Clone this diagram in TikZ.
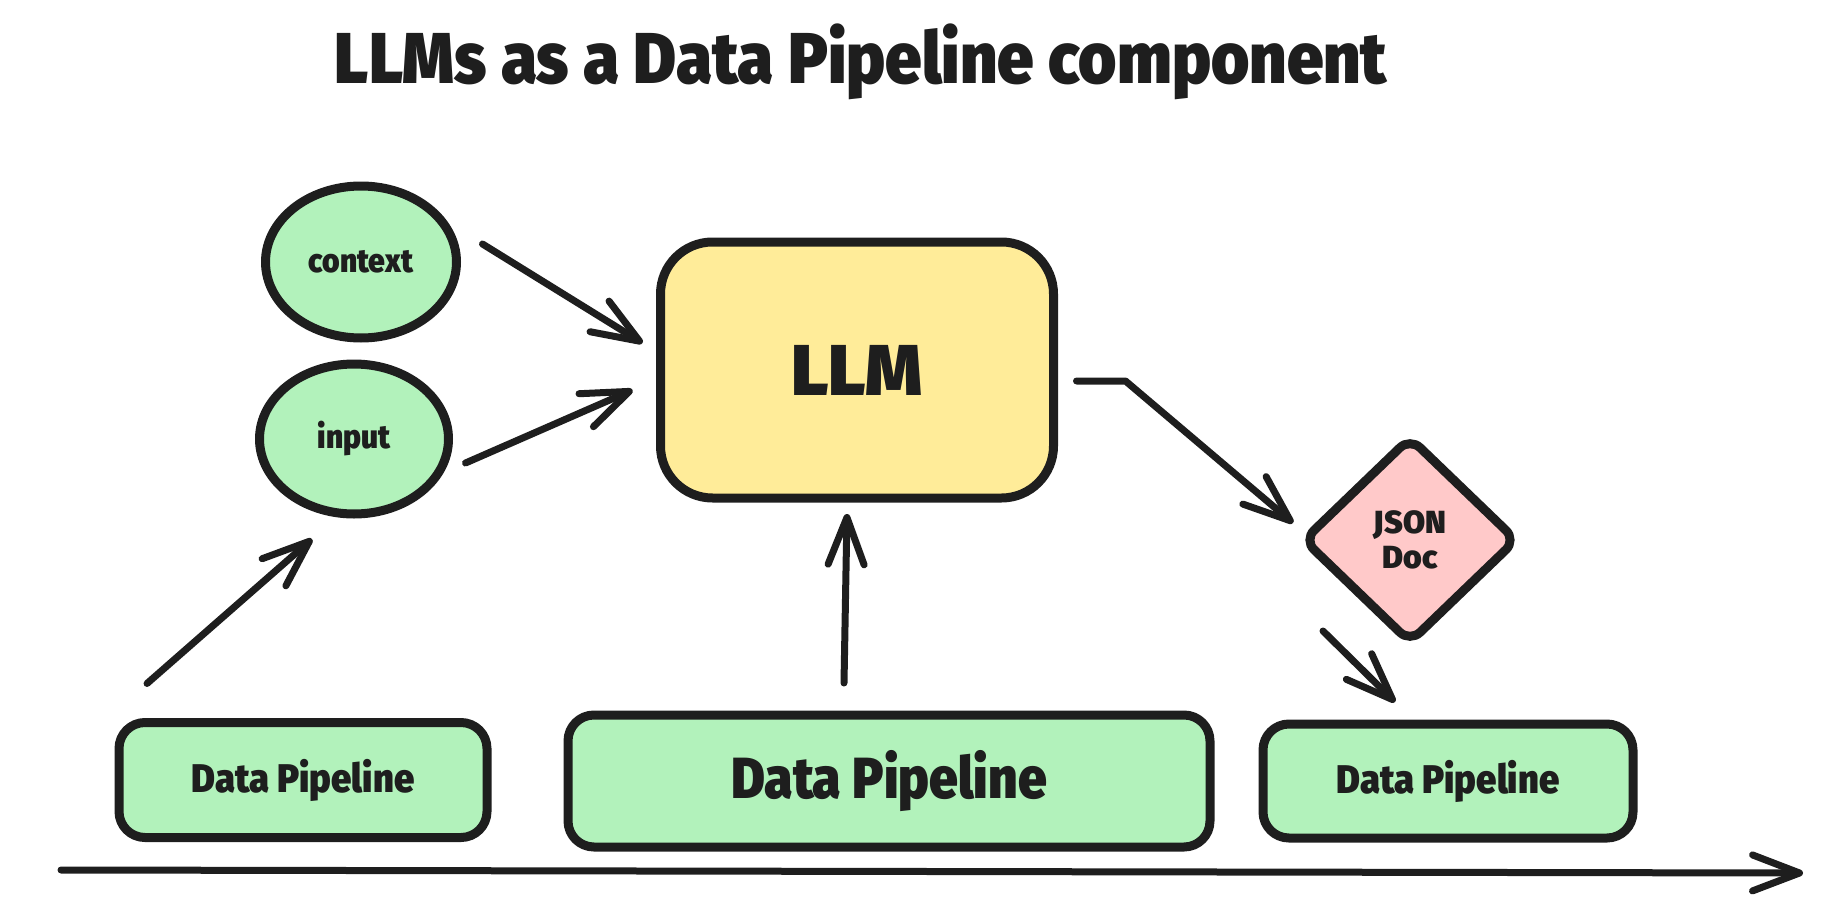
\documentclass[tikz,border=0pt]{standalone}
\usepackage{fontspec}
\newfontfamily\heavyfont{Fira Sans Black}
\newcommand{\narrow}[1]{\scalebox{0.91}[1]{#1}}	% the sketch font runs narrower
\usepackage{tikz}
\usetikzlibrary{arrows.meta,positioning,shapes.geometric}
\definecolor{ink}{HTML}{1E1E1E}
\definecolor{lgreen}{HTML}{B2F2BB}
\definecolor{lyellow}{HTML}{FFEC99}
\definecolor{lpink}{HTML}{FFC9C9}

\begin{document}
\begin{tikzpicture}[% one unit is one pixel of the sketch, y runs down
		x=1pt,y=-1pt,
		every node/.style={
			align=center,		% so that "\\" breaks the line
			text=ink,
			inner sep=0pt,
			outer sep=0pt
		},
		every edge/.style={draw=ink,line width=7pt,line cap=round,line join=round},
		>={Straight Barb[length=47pt,width=36pt,round]},
		pipebox/.style={rectangle,rounded corners=26pt,draw=ink,line width=9pt,fill=lgreen},
		blob/.style={ellipse,draw=ink,line width=9pt,fill=lgreen,font=\heavyfont\fontsize{33}{38}\selectfont}
	]
	\useasboundingbox (0,0) rectangle (1840,918);
	% title
	\node (T) at (861,62) {\heavyfont\fontsize{72}{80}\selectfont\narrow{LLMs as a Data Pipeline component}};
	% model and its inputs
	\node[rectangle,rounded corners=52pt,draw=ink,line width=9pt,fill=lyellow,minimum width=393pt,minimum height=256pt,font=\heavyfont\fontsize{72}{80}\selectfont](R1) at (857,370){LLM};
	\node[blob,minimum width=191pt,minimum height=152pt](R2) at (361,262){\narrow{context}};
	\node[blob,minimum width=189pt,minimum height=150pt](R3) at (354,439){\narrow{input}};
	\node[diamond,rounded corners=14pt,draw=ink,line width=9pt,fill=lpink,minimum width=212pt,minimum height=204pt,font=\heavyfont\fontsize{32}{35}\selectfont](R4) at (1410,540){JSON\\Doc};
	% the pipelines
	\node[pipebox,minimum width=368pt,minimum height=115pt,font=\heavyfont\fontsize{40}{46}\selectfont](R5) at (303,780){\narrow{Data Pipeline}};
	\node[pipebox,minimum width=642pt,minimum height=132pt,font=\heavyfont\fontsize{58}{64}\selectfont](R6) at (889,781){\scalebox{0.89}[1]{Data Pipeline}};
	\node[pipebox,minimum width=370pt,minimum height=114pt,font=\heavyfont\fontsize{40}{46}\selectfont](R7) at (1448,781){\narrow{Data Pipeline}};
	% time line
	\coordinate (A1) at (61,870);
	\coordinate (A2) at (1803,873);
	\path[->]
	([shift={(26,-18)}]R2.east)edge []	node [] {} ([shift={(-18,-27)}]R1.west)
	([shift={(17,24)}]R3.east)edge []	node [] {} ([shift={(-28,20)}]R1.west)
	([shift={(28,-39)}]R5.north west)edge []	node [] {} ([shift={(-42,25)}]R3.south)
	([shift={(-45,-32)}]R6.north)edge []	node [] {} ([shift={(-10,16)}]R1.south)
	([shift={(-87,-11)}]R4.south)edge []	node [] {} ([shift={(-53,-22)}]R7.north)
	(A1)edge []	node [] {} (A2)
	;
	\draw[->,draw=ink,line width=7pt,line cap=round,line join=round]
	([shift={(23,11)}]R1.east) -- ([shift={(72,11)}]R1.east) -- ([shift={(-11,-17)}]R4.west);
\end{tikzpicture}
\end{document}
